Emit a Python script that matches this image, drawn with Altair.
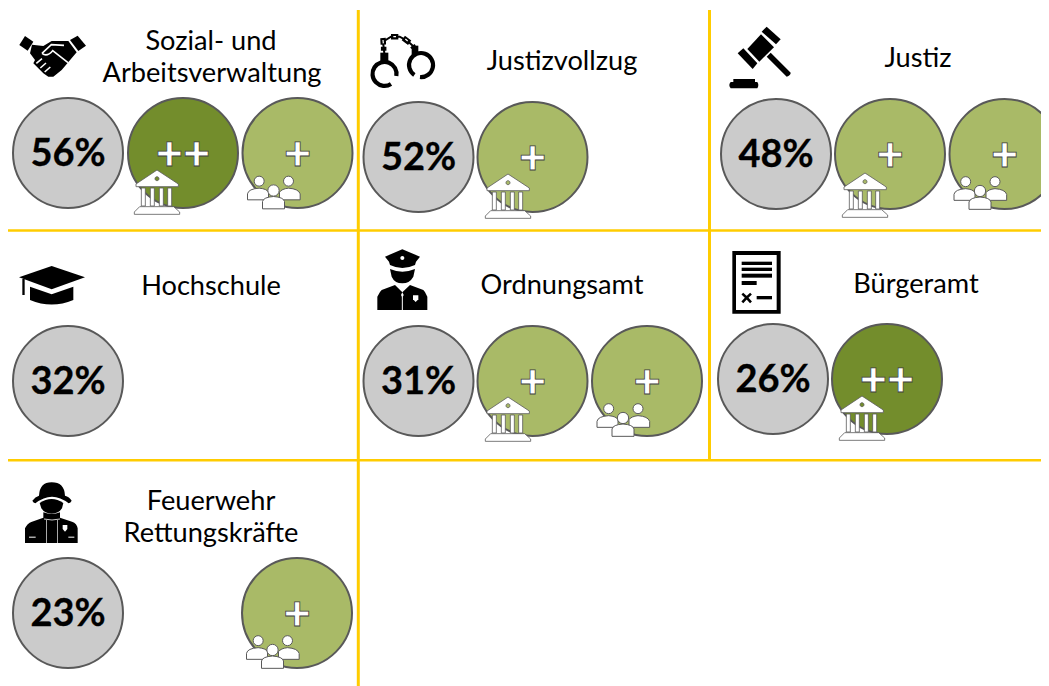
import altair as alt
import pandas as pd

FONT = "Lato"
GOLD = "#FFCC00"
GREY = "#CBCBCB"
DARK = "#738D2C"
LIGHT = "#A9BA67"
EDGE = "#595959"

# circles: value circles and rating circles
circle_x = [68, 183, 297.5, 418.5, 532.5, 776, 890, 1004.5, 68, 418.5, 532.5, 647, 773, 887, 68, 297]
circle_y = [153, 153, 153, 157, 157, 154, 154, 154, 381, 381, 381, 381, 379, 379, 613, 613]
circle_fill = [GREY, DARK, LIGHT, GREY, LIGHT, GREY, LIGHT, LIGHT, GREY, GREY, LIGHT, LIGHT, GREY, DARK, GREY, LIGHT]

pct_labels = ["56%", "52%", "48%", "32%", "31%", "26%", "23%"]
pct_x = [68, 418.5, 776, 68, 418.5, 773, 68]
pct_y = [153, 157, 154, 381, 381, 379, 613]

plus_labels = ["++", "+", "+", "+", "+", "+", "+", "++", "+"]
plus_x = [183, 297.5, 532.5, 890, 1004.5, 532.5, 647, 887, 297]
plus_y = [153, 153, 157, 154, 154, 381, 381, 379, 613]

title_labels = ["Sozial- und", "Arbeitsverwaltung", "Justizvollzug", "Justiz", "Hochschule",
                "Ordnungsamt", "Bürgeramt", "Feuerwehr", "Rettungskräfte"]
title_x = [211, 212, 562, 918, 211, 562, 916, 211, 211]
title_y = [40, 72, 60, 57, 285, 284, 283, 500, 532]

vrule_x = [358.3, 709.5]
vrule_y = [10, 10]
vrule_y2 = [686, 460]
hrule_y = [230.5, 460.3]
hrule_x = [8, 8]
hrule_x2 = [1049, 1049]

icon_names = ["handshake", "handcuffs", "gavel", "cap", "police", "document", "firefighter",
              "bank_dark", "people", "bank_light", "bank_light", "people", "bank_light", "people",
              "bank_dark", "people"]
icon_x = [52, 403, 760, 52, 408, 757, 52, 157, 273.5, 508, 865, 980, 508, 623, 862, 272.5]
icon_y = [58, 60, 50, 285, 280, 282, 515, 196, 196.5, 200, 199, 197, 423, 424, 422, 656]


def ring(cx, cy, r):
    return f"M{cx-r},{cy}A{r},{r} 0 1 0 {cx+r},{cy}A{r},{r} 0 1 0 {cx-r},{cy}Z"


def box(x0, y0, x1, y1):
    return f"M{x0},{y0}L{x1},{y0}L{x1},{y1}L{x0},{y1}Z"


K, W = "#000000", "#FFFFFF"
NONE = "transparent"


def bank(hole):
    parts = [("M0,-78L-63,-36L-63,-28L64,-28L64,-36Z", W, EDGE, 0.8), (ring(0, -52, 6), hole, EDGE, 0.8)]
    for cx in (-41, -14, 13, 38):
        parts.append((box(cx - 6, -24, cx + 6, 30), W, EDGE, 0.8))
    parts.append(("M-52,32L50,32L68,48L68,55L-68,55L-68,48Z", W, EDGE, 0.8))
    return parts


ICON_PARTS = {
    "handshake": [
        ("M-98,-39L-81,-66L-56,-49L-73,-22Z", K, NONE, 0),
        ("M54,-54L77,-67L102,-37L79,-21Z", K, NONE, 0),
        ("M-60,-40L-26,-36L-1,-51L49,-51L74,-17L29,36L4,56L-11,56L-26,46L-41,31L-56,16L-51,6L-66,-14Z", K, NONE, 0),
        ("M-30,-14L-2,-40L36,-38", NONE, W, 1.6),
        ("M-30,-14Q-15,-2 2,-22L48,14", NONE, W, 1.6),
        ("M-47,16L-30,2M-35,30L-18,15M-22,42L-5,27", NONE, W, 1.6),
    ],
    "handcuffs": [
        ("M-20,48A36,36 0 1 0 -36,72", NONE, K, 4.2),
        ("M51,51A36,36 0 1 0 34,45", NONE, K, 4.2),
        (box(-68, -22, -44, 4), K, NONE, 0),
        (box(26, -43, 46, -15), K, NONE, 0),
        ("M-56,-20L-60,-55L-36,-70L-10,-70L14,-57L34,-38", NONE, K, 2),
        ("M-58,-28L-58,-40M-59,-46L-60,-66M-36,-70L-14,-70M1,-66L20,-52M28,-43L32,-38", NONE, K, 5.5),
        ("M-59,-50L-60,-60M-29,-70L-21,-70M7,-63L14,-57", NONE, W, 1.2),
    ],
    "gavel": [
        ("M5,-55L20,-70L62,-32L48,-17Z", K, NONE, 0),
        ("M-38,-3L3,-47L42,-8L-2,35Z", K, NONE, 0),
        ("M-67,10L-50,-5L-8,40L-22,57Z", K, NONE, 0),
        ("M20,20L32,8L92,68Q92,76 80,80Z", K, NONE, 0),
        (box(-80, 87, -15, 96), K, NONE, 0),
        ("M-88,96L-8,96Q-2,105 -8,115L-88,115Q-96,105 -88,96Z", K, NONE, 0),
    ],
    "cap": [
        ("M-99,-23L-1,-57L99,-23L-1,13Z", K, NONE, 0),
        ("M-66,5L-1,28L64,5L64,45Q-1,72 -66,45Z", K, NONE, 0),
        (box(-89, -18, -82, 30), K, NONE, 0),
    ],
    "police": [
        ("M-69,-70L-17,-92L36,-70L24,-55L21,-45Q-17,-27 -54,-45L-57,-55Z", K, NONE, 0),
        (ring(-17, -66, 6), W, NONE, 0),
        ("M-54,-33Q-17,-17 21,-33L16,-10Q5,10 -17,10Q-40,10 -49,-10Z", K, NONE, 0),
        ("M-92,90L-92,50Q-85,35 -79,30L-39,15L-17,37L6,15L46,30Q52,35 58,50L58,90Z", K, NONE, 0),
        ("M-17,37L-21,45L-17,53L-13,45Z", W, NONE, 0),
        (box(-18.5, 50, -15.5, 90), W, NONE, 0),
        ("M15,46L31,46L31,58L23,66L15,58Z", W, NONE, 0),
    ],
    "document": [
        (box(-74, -93, 71, 95), K, NONE, 0),
        (box(-63, -81, 59, 84), W, NONE, 0),
        (box(-46, -61, 45, -51), K, NONE, 0),
        (box(-46, -43, 45, -33), K, NONE, 0),
        (box(-46, -25, 45, -13), K, NONE, 0),
        (box(-46, -3, -1, 9), K, NONE, 0),
        ("M-44,35L-31,47L-18,35M-44,61L-31,47L-18,61", NONE, K, 2.6),
        (box(-1, 42, 45, 52), K, NONE, 0),
    ],
    "firefighter": [
        ("M-59,-43Q-50,-55 -39,-58Q-37,-98 -1,-98Q37,-98 39,-58Q52,-55 59,-43Q56,-37 50,-35Q0,-75 -50,-35Q-56,-37 -59,-43Z", K, NONE, 0),
        ("M-37,-36Q-1,-60 34,-36L30,-20Q20,-4 -1,-4Q-22,-4 -32,-20Z", K, NONE, 0),
        ("M-81,84L-81,40Q-75,25 -60,20L-26,8L-26,-8Q0,2 24,-8L24,8L60,20Q75,25 77,40L77,84Z", K, NONE, 0),
        ("M-24,12Q0,18 24,12", NONE, W, 0.8),
        (box(-17, 15, -15, 84), W, NONE, 0),
        (box(15, 15, 17, 84), W, NONE, 0),
        (box(-69, 65, -49, 68), W, NONE, 0),
        (box(49, 65, 67, 68), W, NONE, 0),
        ("M32,30L46,30L46,42L39,50L32,42Z", W, NONE, 0),
    ],
    "bank_dark": bank(DARK),
    "bank_light": bank(LIGHT),
    "people": [
        (ring(-43, -46, 15), W, EDGE, 1),
        ("M-78,10L-78,-8Q-75,-23 -43,-25Q-20,-23 -15,-13L-15,10Z", W, EDGE, 1),
        (ring(45, -46, 15), W, EDGE, 1),
        ("M80,10L80,-8Q75,-23 45,-25Q25,-23 18,-13L18,10Z", W, EDGE, 1),
        (ring(0, -18, 17), W, EDGE, 1),
        ("M-33,37L-33,15Q-30,2 0,0Q30,2 33,15L33,37Z", W, EDGE, 1),
    ],
}

icon_rows = []
for name, ix, iy in zip(icon_names, icon_x, icon_y):
    for path, fill, stroke, sw in ICON_PARTS[name]:
        icon_rows.append({"x": ix, "y": iy, "path": path, "fill": fill, "stroke": stroke, "sw": sw})

xs = alt.Scale(domain=[8, 1041], range=[0, 1033])
ys = alt.Scale(domain=[8, 686], range=[0, 678])
X = alt.X("x:Q", scale=xs, axis=None)
Y = alt.Y("y:Q", scale=ys, axis=None)

vrules = alt.Chart(pd.DataFrame({"x": vrule_x, "y": vrule_y, "y2": vrule_y2})).mark_rule(
    color=GOLD, strokeWidth=3).encode(X, Y, y2="y2:Q")
hrules = alt.Chart(pd.DataFrame({"x": hrule_x, "x2": hrule_x2, "y": hrule_y})).mark_rule(
    color=GOLD, strokeWidth=2.6).encode(X, Y, x2="x2:Q")

circles = alt.Chart(pd.DataFrame({"x": circle_x, "y": circle_y, "fill": circle_fill})).mark_point(
    filled=True, shape="circle", size=110 * 110, stroke=EDGE, strokeWidth=2, opacity=1
).encode(X, Y, fill=alt.Fill("fill:N", scale=None))

pcts = alt.Chart(pd.DataFrame({"x": pct_x, "y": pct_y, "t": pct_labels})).mark_text(
    font=FONT, fontWeight="bold", fontSize=38, color="#000000", stroke="#000000", strokeWidth=0.3,
    align="center", baseline="middle", dy=2
).encode(X, Y, text="t:N")

pluses = alt.Chart(pd.DataFrame({"x": plus_x, "y": plus_y, "t": plus_labels})).mark_text(
    font=FONT, fontWeight=900, fontSize=47, fill="#FFFFFF", stroke="#404040", strokeWidth=0.8,
    align="center", baseline="middle", dy=2.5
).encode(X, Y, text="t:N")

titles = alt.Chart(pd.DataFrame({"x": title_x, "y": title_y, "t": title_labels})).mark_text(
    font=FONT, fontSize=27.2, color="#000000", align="center", baseline="middle", dy=2
).encode(X, Y, text="t:N")

icons = alt.Chart(pd.DataFrame(icon_rows)).mark_point(filled=True, size=4 / 9, opacity=1).encode(
    X, Y,
    shape=alt.Shape("path:N", scale=None),
    fill=alt.Fill("fill:N", scale=None),
    stroke=alt.Stroke("stroke:N", scale=None),
    strokeWidth=alt.StrokeWidth("sw:Q", scale=None),
    order=alt.Order("idx:Q"),
).transform_window(idx="row_number()")

chart = alt.layer(vrules, hrules, circles, pcts, pluses, titles, icons).properties(
    width=1033, height=678, padding=0, autosize=alt.AutoSizeParams(type="none"),
    background="#FFFFFF"
).configure_view(stroke=None)

chart.save("out.html", embed_options={"renderer": "svg", "actions": False})
